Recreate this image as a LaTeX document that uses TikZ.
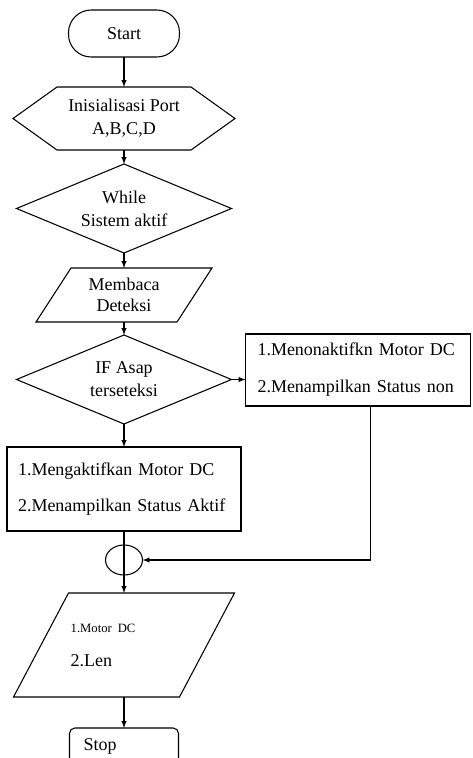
\documentclass[tikz,border=0pt]{standalone}
\usepackage{fontspec}
\setmainfont{Liberation Serif}
\usetikzlibrary{positioning, calc, shapes, shapes.geometric, arrows}
\tikzset{fbase/.style={line width=0.8pt, outer sep=0pt, font=\fontsize{13.5}{17.25}\selectfont, align=center}}
\tikzset{fterm/.style={fbase, draw, rounded corners=17pt, minimum width=83.25pt, minimum height=35.25pt}}
\tikzset{fprep/.style={fbase, inner sep=0pt, minimum width=166.5pt, minimum height=47.25pt}}
\tikzset{fdec/.style={fbase, draw, diamond, aspect=2.4, inner sep=0pt, minimum width=161.25pt, minimum height=66.75pt}}
\tikzset{fio/.style={fbase, rectangle, inner sep=0pt}}
\tikzset{fproc/.style={fbase, draw, rectangle, align=left}}
\tikzset{fline/.style={line width=0.8pt}}
\tikzset{arr/.style={draw, -latex, line width=0.8pt}}

\begin{document}
\begin{tikzpicture}
	\useasboundingbox (0,0) rectangle (354.75pt,-568.5pt);
	\clip (0,0) rectangle (354.75pt,-568.5pt);
	%
	\node[fterm] (start) at (93pt,-25.125pt) {Start};
	\node[fprep, below=22.5pt of start] (init) {Inisialisasi Port\\A,B,C,D};
	\draw[fline] (init.west) -- ([xshift=33pt]init.north west)
		-- ([xshift=-33pt]init.north east) -- (init.east)
		-- ([xshift=-33pt]init.south east) -- ([xshift=33pt]init.south west) -- cycle;
	\node[fdec, below=10.5pt of init] (while) {While\\Sistem aktif};
	\node[fio, below=11.25pt of while, minimum width=132pt, minimum height=40.5pt] (baca)
		{Membaca\\[-1.5pt]Deteksi};
	\draw[fline] ([xshift=26.25pt]baca.north west) -- (baca.north east)
		-- ([xshift=-26.25pt]baca.south east) -- (baca.south west) -- cycle;
	\node[fdec, below=9.75pt of baca] (cek) {IF Asap\\terseteksi};
	%
	\node[fproc, right=10.5pt of cek, yshift=7.125pt, text width=150.75pt, inner xsep=9pt,
		minimum height=54pt] (nonaktif) {1.Menonaktifkn Motor DC\\[10.5pt]2.Menampilkan Status non};
	\node[fproc, below=17.25pt of cek, text width=159pt, inner xsep=8.25pt,
		minimum height=63pt] (aktif) {1.Mengaktifkan Motor DC\\[9.75pt]2.Menampilkan Status Aktif\\[13.5pt]};
	%
	\node[fbase, draw, ellipse, inner sep=0pt, minimum width=27.75pt, minimum height=22.5pt,
		below=10.5pt of aktif] (join) {};
	\node[fio, below=13.5pt of join, minimum width=165.75pt, minimum height=78pt,
		text width=80pt, align=left] (tampil)
		{{\fontsize{9.5}{11}\selectfont 1.Motor DC}\\[8.25pt]2.Len};
	\draw[fline] ([xshift=41.25pt]tampil.north west) -- (tampil.north east)
		-- ([xshift=-41.25pt]tampil.south east) -- (tampil.south west) -- cycle;
	\node[fbase, draw, rounded corners=4pt, minimum height=27pt, text width=60.75pt,
		inner xsep=10.5pt, align=left, below=23.25pt of tampil] (stop) {Stop};
	%
	\draw[arr] (start) -- (init);
	\draw[arr] (init) -- (while);
	\draw[arr] (while) -- (baca);
	\draw[arr] (baca) -- (cek);
	\draw[arr] (cek) -- (aktif);
	\draw[arr] (cek.east) -- (cek.east -| nonaktif.west);
	\draw[fline] (aktif) -- (join);
	\draw[arr] (join.north) -- (tampil);
	\draw[arr] ([xshift=9.4pt]nonaktif.south) |- (join.east);
	\draw[arr] (tampil) -- (stop);
\end{tikzpicture}
\end{document}
